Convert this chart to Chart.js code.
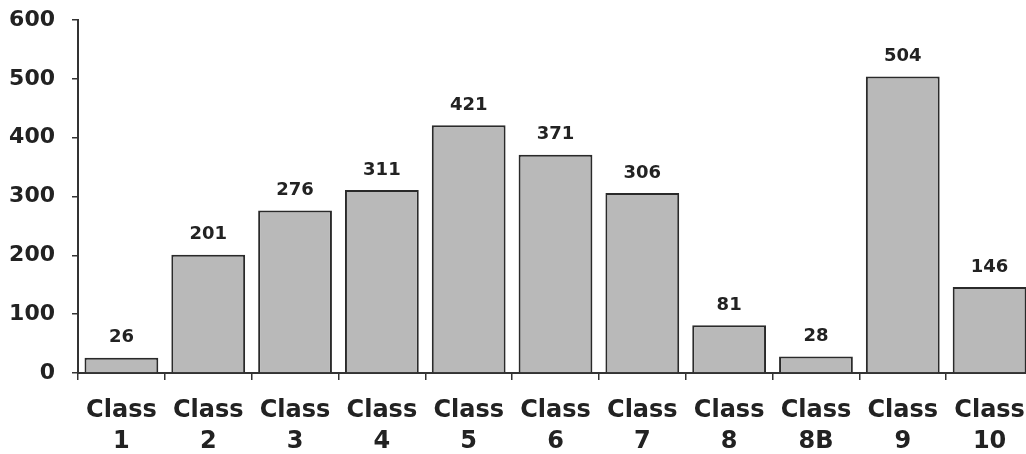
<!DOCTYPE html>
<html>
<head>
<meta charset="utf-8">
<script src="https://cdn.jsdelivr.net/npm/chart.js@4/dist/chart.umd.min.js"></script>
<style>
  html, body { margin: 0; padding: 0; background: #fff; overflow: hidden; }
  #wrap { width: 1026px; height: 454px; overflow: hidden; }
</style>
</head>
<body>
<div id="wrap"><canvas id="chart" width="1034" height="454"></canvas></div>
<script>
// Chart data
const categories = [['Class', '1'], ['Class', '2'], ['Class', '3'], ['Class', '4'], ['Class', '5'],
    ['Class', '6'], ['Class', '7'], ['Class', '8'], ['Class', '8B'], ['Class', '9'], ['Class', '10']];
const counts = [26, 201, 276, 311, 421, 371, 306, 81, 28, 504, 146];
const yTicks = [0, 100, 200, 300, 400, 500, 600];

const fontFamily = '"DejaVu Sans", Verdana, sans-serif';
const axisColor = '#333';

// Draw value labels above each bar
const valueLabels = {
    id: 'valueLabels',
    afterDatasetsDraw(chart) {
        const ctx = chart.ctx;
        const meta = chart.getDatasetMeta(0);
        ctx.save();
        ctx.font = 'bold 18px ' + fontFamily;
        ctx.fillStyle = '#222';
        ctx.textAlign = 'center';
        ctx.textBaseline = 'middle';
        meta.data.forEach((bar, i) => {
            ctx.fillText(String(counts[i]), bar.x, bar.y - 20);
        });
        ctx.restore();
    }
};

const ctx = document.getElementById('chart').getContext('2d');
new Chart(ctx, {
    type: 'bar',
    data: {
        labels: categories,
        datasets: [{
            data: counts,
            backgroundColor: '#b9b9b9',
            borderColor: '#2a2a2a',
            borderWidth: 2,
            barPercentage: 0.85,
            categoryPercentage: 1.0
        }]
    },
    options: {
        responsive: false,
        animation: false,
        layout: { padding: { top: 20, right: 1, left: 0, bottom: 0 } },
        plugins: {
            legend: { display: false },
            tooltip: { enabled: false }
        },
        scales: {
            x: {
                offset: true,
                grid: {
                    offset: true,
                    drawOnChartArea: false,
                    drawTicks: true,
                    tickLength: 7,
                    color: axisColor,
                    lineWidth: 1.5
                },
                border: { display: true, color: axisColor, width: 2 },
                ticks: {
                    color: '#222',
                    padding: 15,
                    maxRotation: 0,
                    autoSkip: false,
                    font: { family: fontFamily, size: 24, weight: 'bold', lineHeight: 1.3 }
                },
                afterFit(scale) {
                    scale.height = 81;
                    scale.paddingLeft = 0;
                    scale.paddingRight = 0;
                }
            },
            y: {
                min: 0,
                max: 600,
                afterBuildTicks(scale) { scale.ticks = yTicks.map(v => ({ value: v })); },
                grid: {
                    drawOnChartArea: false,
                    drawTicks: true,
                    tickLength: 6,
                    color: axisColor,
                    lineWidth: 1.5
                },
                border: { display: true, color: axisColor, width: 2 },
                ticks: {
                    color: '#222',
                    padding: 17,
                    font: { family: fontFamily, size: 22, weight: 'bold' }
                },
                afterFit(scale) {
                    scale.width = 78;
                    scale.paddingTop = 0;
                    scale.paddingBottom = 0;
                }
            }
        }
    },
    plugins: [valueLabels]
});
</script>
</body>
</html>
